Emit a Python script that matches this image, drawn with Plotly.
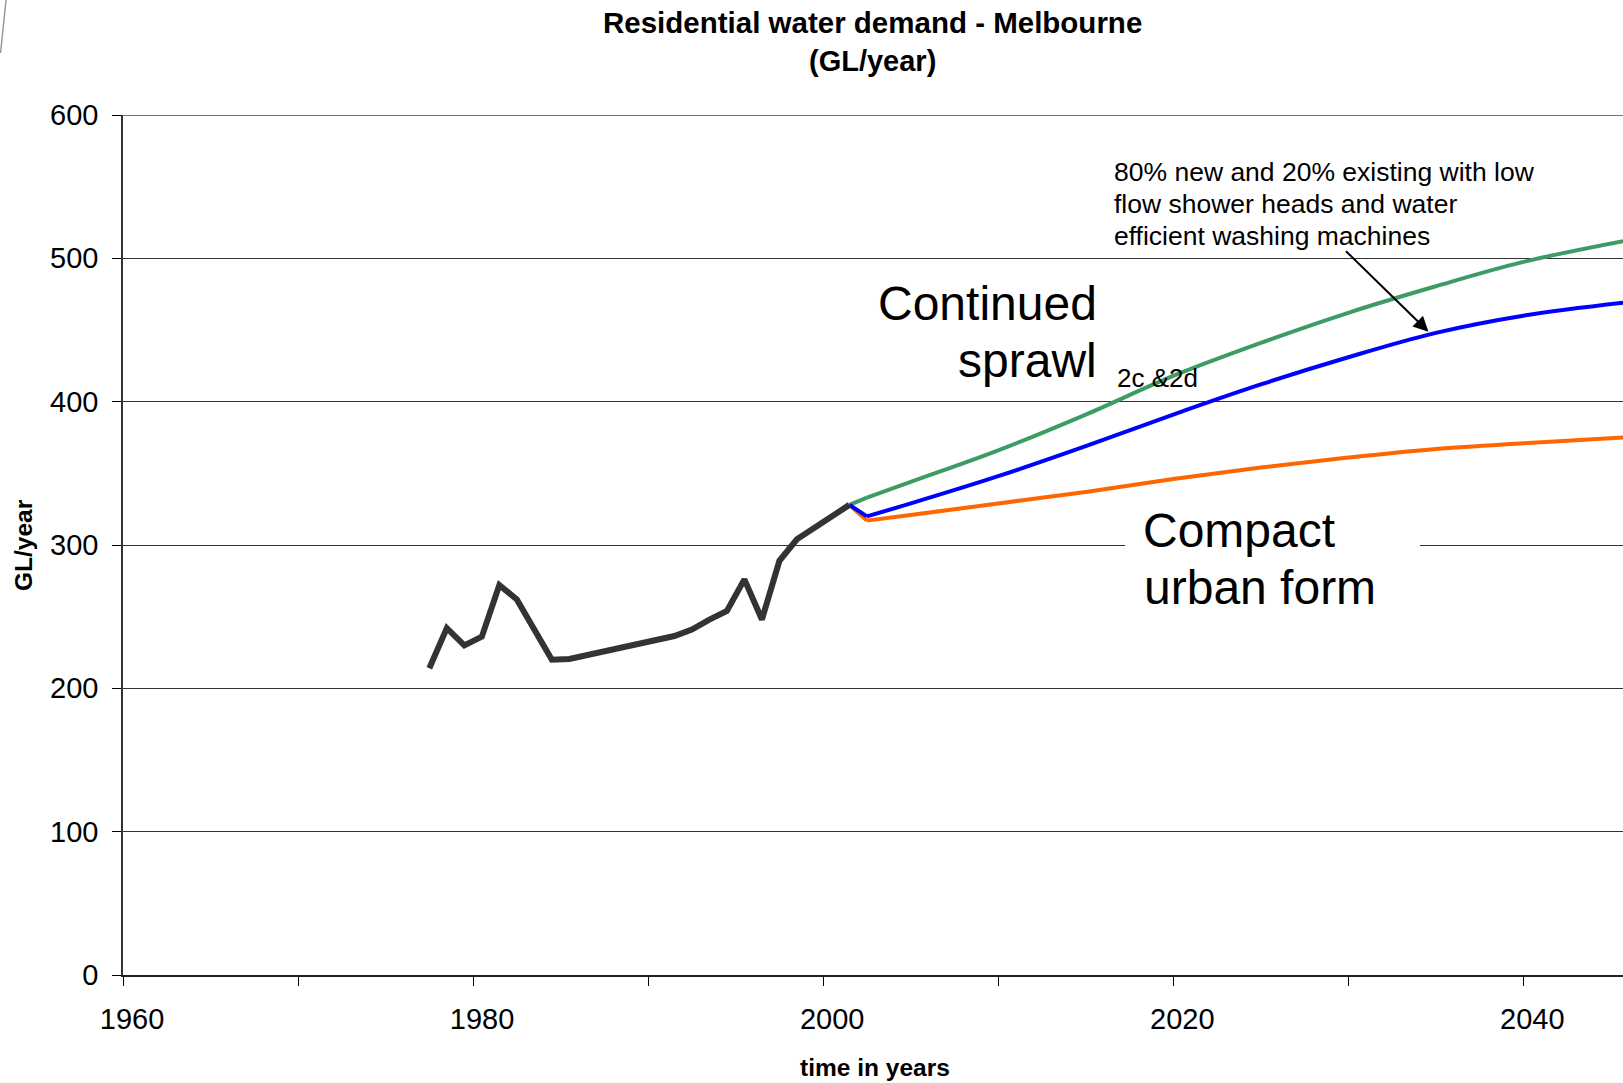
import plotly.graph_objects as go

# ---------------- data ----------------
hist_years = [1977.5, 1978.5, 1979.5, 1980.5, 1981.5, 1982.5, 1984.5, 1985.5,
              1991.5, 1992.5, 1993.5, 1994.5, 1995.5, 1996.5, 1997.5, 1998.5, 2001.5]
hist_vals = [214, 242, 230, 236, 272, 262, 220, 220.5,
             236.5, 241, 248, 254, 276, 248, 289, 304, 328]

proj_years = [2001.5, 2002.5, 2005, 2010, 2015, 2020, 2025, 2030, 2035, 2040, 2045.7]
sprawl_vals = [328, 333, 344, 366, 391, 418, 441, 462, 480.5, 497.5, 512]
efficient_vals = [328, 320, 329, 348, 369, 391, 412, 431, 448, 460, 469]
compact_vals = [328, 317, 321, 329, 337, 346, 354, 361, 367, 371, 375]

y_ticks = [0, 100, 200, 300, 400, 500, 600]
x_ticks = [1960, 1980, 2000, 2020, 2040]

title_line1 = "Residential water demand - Melbourne"
title_line2 = "(GL/year)"
x_title = "time in years"
y_title = "GL/year"
note_lines = ["80% new and 20% existing with low",
              "flow shower heads and water",
              "efficient washing machines"]

# ---------------- layout geometry ----------------
W, H = 1623, 1083
L, R, T, B = 122.5, 1623, 115, 975
PW, PH = R - L, B - T
FONT = "Liberation Sans, Arial, sans-serif"


def px(xp):
    return (xp - L) / PW


def py(yp):
    return (B - yp) / PH


fig = go.Figure()


def add_projection(vals, color):
    # short straight drop right after the last observed year, then a smooth curve
    fig.add_trace(go.Scatter(x=proj_years[:2], y=vals[:2], mode="lines",
                             line=dict(color=color, width=4), hoverinfo="skip"))
    fig.add_trace(go.Scatter(x=proj_years[1:], y=vals[1:], mode="lines",
                             line=dict(color=color, width=4, shape="spline", smoothing=1.0),
                             hoverinfo="skip"))


add_projection(sprawl_vals, "#3d9c63")
add_projection(compact_vals, "#ff6600")
add_projection(efficient_vals, "#0000ff")
fig.add_trace(go.Scatter(x=hist_years, y=hist_vals, mode="lines",
                         line=dict(color="#333333", width=6), hoverinfo="skip"))

annotations = []


def text_ann(text, xp, yp, size, xanchor="left", bold=False, angle=0):
    annotations.append(dict(
        text=f"<b>{text}</b>" if bold else text,
        x=px(xp), y=py(yp), xref="paper", yref="paper",
        xanchor=xanchor, yanchor="middle", showarrow=False, align="left",
        textangle=angle,
        font=dict(family=FONT, size=size, color="black")))


# titles
text_ann(title_line1, 872.5, 22, 29.5, xanchor="center", bold=True)
text_ann(title_line2, 872.5, 61, 29, xanchor="center", bold=True)
text_ann(x_title, 875, 1067, 24.5, xanchor="center", bold=True)
text_ann(y_title, 23, 545.5, 24.5, xanchor="center", bold=True, angle=-90)

# in-plot labels
text_ann("Continued", 1099, 303.5, 48, xanchor="right")
text_ann("sprawl", 1099, 360.5, 48, xanchor="right")
text_ann("2c &2d", 1115, 378, 26)
text_ann("Compact", 1141, 530, 48)
text_ann("urban form", 1142, 587.4, 48)
for i, line in enumerate(note_lines):
    text_ann(line, 1112, 172 + 32 * i, 26.5)

# arrow
annotations.append(dict(
    x=2034.58, y=448.8, xref="x", yref="y", text="", showarrow=True,
    ax=-84, ay=-82, axref="pixel", ayref="pixel",
    arrowhead=2, arrowsize=1.5, arrowwidth=2, arrowcolor="black"))

shapes = [
    # top gridline at 600
    dict(type="line", xref="paper", yref="y", x0=0, x1=1, y0=600, y1=600,
         line=dict(color="#777777", width=2), layer="below"),
    # white box behind "Compact urban form" (interrupts the 300 gridline)
    dict(type="rect", xref="x", yref="y", x0=2017.25, x1=2034.1, y0=292, y1=308,
         fillcolor="white", line=dict(width=0), layer="above"),
    # stray grey stroke at the top-left corner
    dict(type="line", xref="paper", yref="paper",
         x0=px(0), y0=py(53), x1=px(5.5), y1=py(0),
         line=dict(color="#9a9a9a", width=1.5)),
]

fig.update_layout(
    width=W, height=H,
    margin=dict(l=L, r=W - R, t=T, b=H - B, pad=0),
    paper_bgcolor="white", plot_bgcolor="white",
    showlegend=False,
    font=dict(family=FONT, color="black"),
    annotations=annotations,
    shapes=shapes,
)

fig.update_xaxes(
    range=[1960, 1960 + PW / 17.51], tickvals=x_ticks, ticktext=[str(v) for v in x_ticks],
    ticks="outside", ticklen=9, tickwidth=1, tickcolor="black",
    minor=dict(dtick=10, tick0=1960, ticks="outside", ticklen=9, tickwidth=1,
               tickcolor="black", showgrid=False),
    showgrid=False, zeroline=False,
    showline=True, linecolor="#222222", linewidth=2,
    tickfont=dict(family=FONT, size=29, color="black"),
    ticklabelstandoff=8, ticklabelshift=9,
)
fig.update_yaxes(
    range=[0, 600], tickvals=y_ticks,
    ticks="outside", ticklen=9, tickwidth=1, tickcolor="black",
    showgrid=True, gridcolor="#333333", gridwidth=1,
    zeroline=False,
    showline=True, linecolor="#333333", linewidth=1.5,
    tickfont=dict(family=FONT, size=29, color="black"),
    ticklabelstandoff=8,
)

fig.write_html("out.html", config={"displayModeBar": False})
